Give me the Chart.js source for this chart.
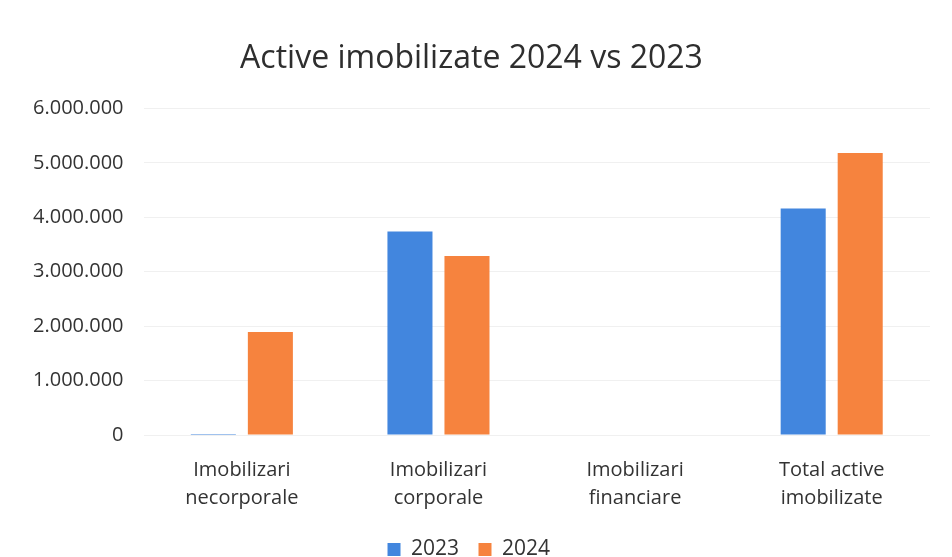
<!DOCTYPE html>
<html>
<head>
<meta charset="utf-8">
<script src="https://cdn.jsdelivr.net/npm/chart.js@4/dist/chart.umd.min.js"></script>
<style>
  html, body { margin: 0; padding: 0; background: #fff; }
  #wrap { width: 952px; height: 557px; }
</style>
</head>
<body>
<div id="wrap"><canvas id="barChart" width="952" height="557"></canvas></div>
<script>
// Data
const categories = [
    ['Imobilizari', 'necorporale'],
    ['Imobilizari', 'corporale'],
    ['Imobilizari', 'financiare'],
    ['Total active', 'imobilizate']
];
const seriesNames = ['2023', '2024'];
const values2023 = [20000, 3740000, 0, 4160000];
const values2024 = [1890000, 3290000, 0, 5180000];
const yTicks = [0, 1000000, 2000000, 3000000, 4000000, 5000000, 6000000];

// 1000000 -> 1.000.000
function formatDots(v) {
    return String(v).replace(/\B(?=(\d{3})+(?!\d))/g, '.');
}

const ctx = document.getElementById('barChart').getContext('2d');
const fontFamily = "'Open Sans', 'Noto Sans', sans-serif";

new Chart(ctx, {
    type: 'bar',
    data: {
        labels: categories,
        datasets: [
            {
                label: seriesNames[0],
                data: values2023,
                backgroundColor: 'rgb(66, 134, 222)',
                categoryPercentage: 0.58,
                barPercentage: 0.79
            },
            {
                label: seriesNames[1],
                data: values2024,
                backgroundColor: 'rgb(246, 131, 62)',
                categoryPercentage: 0.58,
                barPercentage: 0.79
            }
        ]
    },
    options: {
        responsive: false,
        animation: false,
        layout: { padding: { left: 13, right: 22, top: 0, bottom: -13 } },
        plugins: {
            title: {
                display: true,
                text: 'Active imobilizate 2024 vs 2023',
                color: '#2e2e2e',
                font: { family: fontFamily, size: 32, weight: 'normal' },
                padding: { top: 40, bottom: 30 }
            },
            legend: {
                position: 'bottom',
                labels: {
                    color: '#333',
                    font: { family: fontFamily, size: 21 },
                    boxWidth: 13,
                    boxHeight: 13,
                    padding: 14,
                    // a little extra room after each entry, like the original legend
                    generateLabels: chart => Chart.defaults.plugins.legend.labels.generateLabels(chart)
                        .map(item => Object.assign(item, { text: item.text + '\u00a0' }))
                }
            },
            tooltip: { enabled: false }
        },
        scales: {
            x: {
                grid: { display: false },
                border: { display: false },
                ticks: {
                    color: '#333',
                    font: { family: fontFamily, size: 20, lineHeight: 1.4 },
                    padding: 13,
                    maxRotation: 0
                }
            },
            y: {
                min: 0,
                max: 6000000,
                afterBuildTicks: axis => { axis.ticks = yTicks.map(v => ({ value: v })); },
                grid: { color: '#f0f0f0', drawTicks: false },
                border: { display: false },
                ticks: {
                    color: '#333',
                    font: { family: fontFamily, size: 20 },
                    padding: 20,
                    callback: v => formatDots(v)
                }
            }
        }
    }
});
</script>
</body>
</html>
